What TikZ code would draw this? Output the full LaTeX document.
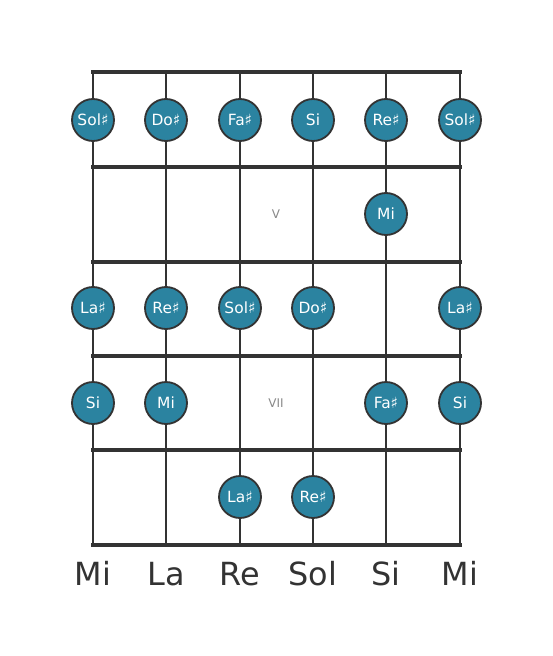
\documentclass[tikz,border=0pt]{standalone}
\usepackage{fontspec}
\setmainfont{DejaVu Sans}
\definecolor{notefill}{HTML}{2B83A0}
\definecolor{lineclr}{HTML}{333333}
\definecolor{fretnum}{HTML}{888888}
\begin{document}
\begin{tikzpicture}[x=1bp,y=-1bp,
  stringline/.style={draw=lineclr,line width=2.8bp},
  fretline/.style={draw=lineclr,line width=4.5bp,line cap=rect},
  note/.style={circle,fill=notefill,draw=lineclr,line width=1.8bp,minimum size=42bp,inner sep=0pt,text=white,font=\fontsize{15.5}{15.5}\selectfont},
  strname/.style={text=lineclr,font=\fontsize{32}{32}\selectfont,anchor=base},
  fretlabel/.style={text=fretnum,font=\fontsize{12}{12}\selectfont}]
\useasboundingbox (0,0) rectangle (553,656);
% string coordinates
\foreach \i/\x in {1/93,2/166,3/240,4/313,5/386,6/460}{
  \coordinate (t\i) at (\x,72);
  \coordinate (b\i) at (\x,545);
}
\foreach \i in {1,...,6}{ \draw[stringline] (t\i) -- (b\i); }
% frets
\foreach \j/\y in {0/72,1/167,2/262,3/356,4/450,5/545}{
  \coordinate (fl\j) at (93,\y);
  \coordinate (fr\j) at (460,\y);
  \draw[fretline] (fl\j) -- (fr\j);
}
% fret numbers
\node[fretlabel] (fv) at (276,214) {V};
\node[fretlabel] (fvii) at (276,403) {VII};
% notes row 1
\node[note] (n11) at (93,120) {Sol♯};
\node[note] (n12) at (166,120) {Do♯};
\node[note] (n13) at (240,120) {Fa♯};
\node[note] (n14) at (313,120) {Si};
\node[note] (n15) at (386,120) {Re♯};
\node[note] (n16) at (460,120) {Sol♯};
% row 2
\node[note] (n25) at (386,214) {Mi};
% row 3
\node[note] (n31) at (93,308) {La♯};
\node[note] (n32) at (166,308) {Re♯};
\node[note] (n33) at (240,308) {Sol♯};
\node[note] (n34) at (313,308) {Do♯};
\node[note] (n36) at (460,308) {La♯};
% row 4
\node[note] (n41) at (93,403) {Si};
\node[note] (n42) at (166,403) {Mi};
\node[note] (n45) at (386,403) {Fa♯};
\node[note] (n46) at (460,403) {Si};
% row 5
\node[note] (n53) at (240,497) {La♯};
\node[note] (n54) at (313,497) {Re♯};
% string names
\node[strname] (m1) at (93,585) {Mi};
\node[strname] (m2) at (166,585) {La};
\node[strname] (m3) at (240,585) {Re};
\node[strname] (m4) at (313,585) {Sol};
\node[strname] (m5) at (386,585) {Si};
\node[strname] (m6) at (460,585) {Mi};
\end{tikzpicture}
\end{document}
